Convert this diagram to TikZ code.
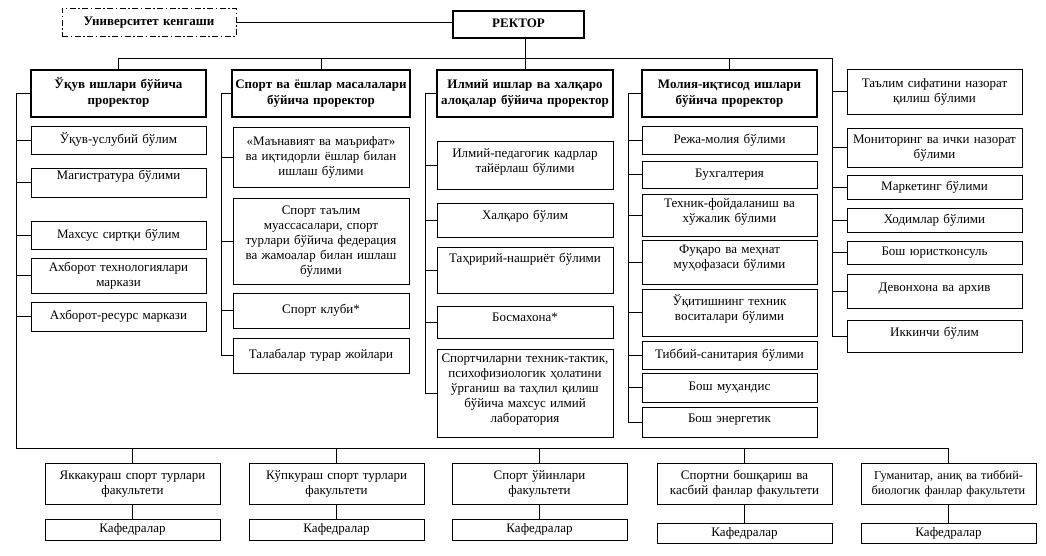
\documentclass[tikz,border=0pt]{standalone}
\usepackage{fontspec}
\setmainfont{Liberation Serif}
\usetikzlibrary{positioning}

\begin{document}
\begin{tikzpicture}[
    x=1pt,y=-1pt,
    node distance=9pt,
    unit/.style={rectangle,draw=black,line width=0.9pt,fill=white,align=center,
      minimum width=175pt,text width=171pt,inner xsep=2pt,inner ysep=1pt,outer sep=0pt,
      font=\fontsize{13}{15}\selectfont,
      execute at begin node={\noindent\strut},execute at end node=\strut},
    head/.style={unit,line width=1.2pt,font=\fontsize{13}{16}\selectfont\bfseries},
    up/.style={execute at end node={\rule[-#1]{0pt}{#1}}},
    faculty/.style={unit,minimum height=41pt},
    link/.style={draw=black,line width=0.8pt}
]
\useasboundingbox (0,0) rectangle (1046,555);

% top
\node[unit,line width=1pt,dash pattern=on 6pt off 2.5pt on 1.5pt off 2.5pt,
  minimum width=174pt,text width=166pt,minimum height=28pt,font=\fontsize{13}{16}\selectfont\bfseries] (council) at (149,22) {Университет кенгаши};
\node[head,minimum width=131pt,text width=120pt,minimum height=27pt] (rector) at (518.5,24.5) {РЕКТОР};

% prorectors
\node[head,minimum height=47pt] (educ) at (118.5,93.5) {Ўқув ишлари бўйича\\проректор};
\node[head,minimum width=178pt,text width=176pt,inner xsep=1pt,minimum height=47pt] (sport) at (321,93.5) {Спорт ва ёшлар масалалари\\бўйича проректор};
\node[head,minimum width=176pt,text width=174pt,inner xsep=1pt,minimum height=47pt] (science) at (525,93.5) {Илмий ишлар ва халқаро\\алоқалар бўйича проректор};
\node[head,minimum height=47pt] (finance) at (729.5,93.5) {Молия-иқтисод ишлари\\бўйича проректор};

% educ
\node[unit,minimum height=28pt,below=9pt of educ] (educ1) {Ўқув-услубий бўлим};
\node[unit,minimum height=29pt,below=14pt of educ1,up=16.5pt] (educ2) {Магистратура бўлими};
\node[unit,minimum height=28pt,below=24pt of educ2] (educ3) {Махсус сиртқи бўлим};
\node[unit,minimum height=35pt,below=9pt of educ3] (educ4) {Ахборот технологиялари\\маркази};
\node[unit,minimum height=29pt,below=9pt of educ4] (educ5) {Ахборот-ресурс маркази};

% sport
\node[unit,minimum width=176pt,minimum height=60pt,below=10pt of sport] (sport1) {«Маънавият ва маърифат»\\ва иқтидорли ёшлар билан\\ишлаш бўлими};
\node[unit,minimum width=176pt,minimum height=86pt,below=11pt of sport1] (sport2) {Спорт таълим\\муассасалари, спорт\\турлари бўйича федерация\\ва жамоалар билан ишлаш\\бўлими};
\node[unit,minimum width=176pt,minimum height=35pt,below=9pt of sport2] (sport3) {Спорт клуби*};
\node[unit,minimum width=176pt,minimum height=35pt,below=10pt of sport3] (sport4) {Талабалар турар жойлари};

% science
\node[unit,minimum width=176pt,minimum height=48pt,below=24pt of science,up=11.5pt] (science1) {Илмий-педагогик кадрлар\\тайёрлаш бўлими};
\node[unit,minimum width=176pt,minimum height=34pt,below=14pt of science1,up=12.5pt] (science2) {Халқаро бўлим};
\node[unit,minimum width=176pt,minimum height=46pt,below=10pt of science2,up=26.5pt] (science3) {Таҳририй-нашриёт бўлими};
\node[unit,minimum width=176pt,minimum height=32pt,below=13pt of science3,up=12.5pt] (science4) {Босмахона*};
\node[unit,minimum width=176pt,minimum height=88pt,below=11pt of science4,up=12.5pt] (science5) {Спортчиларни техник-тактик,\\психофизиологик ҳолатини\\ўрганиш ва таҳлил қилиш\\бўйича махсус илмий\\лаборатория};

% finance
\node[unit,minimum height=28pt,below=9pt of finance] (finance1) {Режа-молия бўлими};
\node[unit,minimum height=27pt,below=7pt of finance1] (finance2) {Бухгалтерия};
\node[unit,minimum height=42pt,below=6pt of finance2,up=11.5pt] (finance3) {Техник-фойдаланиш ва\\хўжалик бўлими};
\node[unit,minimum height=44pt,below=4pt of finance3,up=12.5pt] (finance4) {Фуқаро ва меҳнат\\муҳофазаси бўлими};
\node[unit,minimum height=47pt,below=5pt of finance4,up=9.5pt] (finance5) {Ўқитишнинг техник\\воситалари бўлими};
\node[unit,minimum height=28pt,below=5pt of finance5] (finance6) {Тиббий-санитария бўлими};
\node[unit,minimum height=29pt,below=4pt of finance6] (finance7) {Бош муҳандис};
\node[unit,minimum height=30pt,below=5pt of finance7,up=10.5pt] (finance8) {Бош энергетик};

% rector's own units
\node[unit,minimum height=45pt] (quality) at (934.5,91.5) {Таълим сифатини назорат\\қилиш бўлими};
\node[unit,minimum height=39pt,below=14pt of quality] (monitor) {Мониторинг ва ички назорат\\бўлими};
\node[unit,minimum height=24pt,below=8pt of monitor] (marketing) {Маркетинг бўлими};
\node[unit,minimum height=24pt,below=9pt of marketing] (staff) {Ходимлар бўлими};
\node[unit,minimum height=23pt,below=9pt of staff] (lawyer) {Бош юристконсуль};
\node[unit,minimum height=34pt,below=10pt of lawyer,up=10.5pt] (archive) {Девонхона ва архив};
\node[unit,minimum height=32pt,below=12pt of archive,up=10.5pt] (second) {Иккинчи бўлим};

% faculties
\node[faculty] (fac1) at (132.5,483.5) {Яккакураш спорт турлари\\факультети};
\node[faculty,right=29pt of fac1] (fac2) {Кўпкураш спорт турлари\\факультети};
\node[faculty,right=28pt of fac2] (fac3) {Спорт ўйинлари\\факультети};
\node[faculty,right=30pt of fac3] (fac4) {Спортни бошқариш ва\\касбий фанлар факультети};
\node[faculty,right=29pt of fac4,font=\fontsize{12.3}{15}\selectfont] (fac5) {Гуманитар, аниқ ва тиббий-\\биологик фанлар факультети};
\foreach \n in {1,2,3}
  \node[unit,minimum height=21pt,below=15pt of fac\n] (dep\n) {Кафедралар};
\foreach \n in {4,5}
  \node[unit,minimum height=20pt,below=19pt of fac\n] (dep\n) {Кафедралар};

% trunks
\coordinate (trunkA) at (16,448);
\coordinate (trunkB) at (221,0);
\coordinate (trunkC) at (425,0);
\coordinate (trunkD) at (628,0);
\coordinate (trunkE) at (832,58);

\draw[link] (council.east) -- (council.east -| rector.west);
\draw[link] (rector.south -| science.north) -- (science.north);
\draw[link] (educ.north) |- (trunkE) |- (second.west);
\foreach \n in {sport,finance}
  \draw[link] (\n.north) -- (\n.north |- trunkE);
\foreach \n in {quality,monitor,marketing,staff,lawyer,archive}
  \draw[link] (\n.west) -- (\n.west -| trunkE);

\draw[link] (educ.west) -| (trunkA) -| (fac5.north);
\foreach \n in {educ1,educ2,educ3,educ4,educ5}
  \draw[link] (\n.west) -- (\n.west -| trunkA);
\foreach \n in {1,...,4}
  \draw[link] (fac\n.north) -- (fac\n.north |- trunkA);
\foreach \n in {1,...,5}
  \draw[link] (fac\n) -- (dep\n);

\draw[link] (sport.west) -| (trunkB |- sport4.west) -- (sport4.west);
\foreach \n in {sport1,sport2,sport3}
  \draw[link] (\n.west) -- (\n.west -| trunkB);

\draw[link] (science.west) -| (trunkC |- science5.west) -- (science5.west);
\foreach \n in {science1,science2,science3,science4}
  \draw[link] (\n.west) -- (\n.west -| trunkC);

\draw[link] (finance.west) -| (trunkD |- finance8.west) -- (finance8.west);
\foreach \n in {finance1,finance2,finance3,finance4,finance5,finance6,finance7}
  \draw[link] (\n.west) -- (\n.west -| trunkD);

\end{tikzpicture}
\end{document}
